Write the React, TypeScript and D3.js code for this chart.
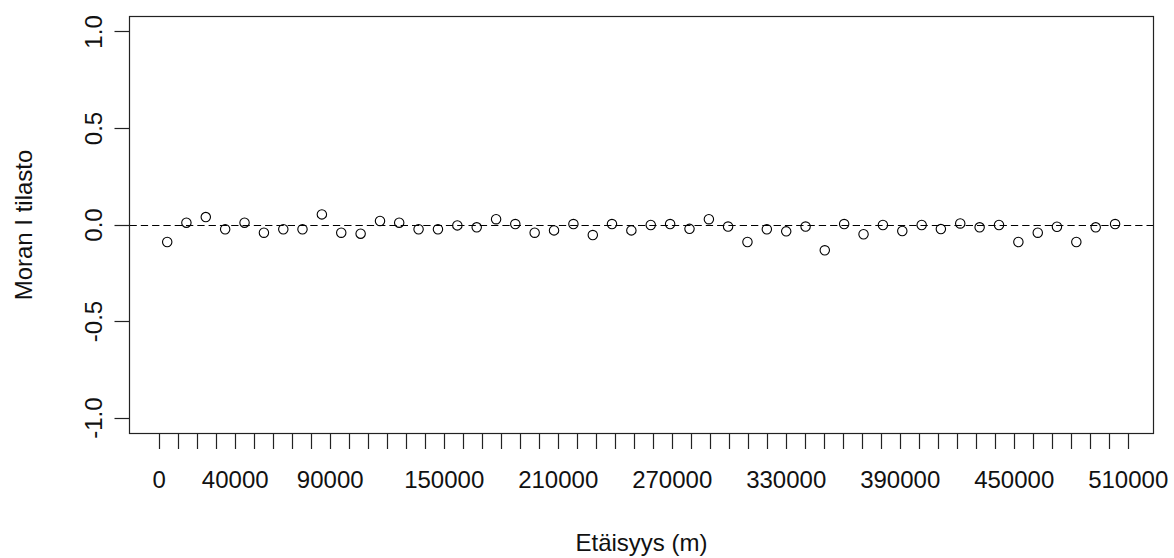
import React from "react";
import * as d3 from "d3";

// Distance-class midpoints (m) and Moran's I statistic per class
const distances = [
  4200, 14300, 24500, 34700, 44900, 55100, 65300, 75400, 85600, 95800,
  106000, 116200, 126300, 136500, 146700, 156900, 167100, 177300, 187400, 197600,
  207800, 218000, 228200, 238300, 248500, 258700, 268900, 279100, 289300, 299400,
  309600, 319800, 330000, 340200, 350300, 360500, 370700, 380900, 391100, 401300,
  411400, 421600, 431800, 442000, 452200, 462400, 472500, 482700, 492900, 503100,
];
const moranI = [
  -0.088, 0.012, 0.041, -0.022, 0.012, -0.04, -0.022, -0.022, 0.055, -0.04,
  -0.045, 0.021, 0.012, -0.022, -0.022, -0.002, -0.012, 0.03, 0.005, -0.04,
  -0.028, 0.005, -0.052, 0.005, -0.028, 0.0, 0.005, -0.02, 0.03, -0.008,
  -0.088, -0.022, -0.033, -0.008, -0.131, 0.005, -0.048, 0.0, -0.031, 0.0,
  -0.021, 0.008, -0.012, 0.0, -0.088, -0.04, -0.009, -0.088, -0.012, 0.005,
];

const xTickStep = 10000;
const xTickMax = 510000;
const xTickLabels = ["0", "40000", "90000", "150000", "210000", "270000", "330000", "390000", "450000", "510000"];
const yTicks = [-1, -0.5, 0, 0.5, 1];
const yTickLabels = ["-1.0", "-0.5", "0.0", "0.5", "1.0"];
const yLimits = [-1, 1];
const xTitle = "Etäisyys (m)";
const yTitle = "Moran I tilasto";

const W = 1174;
const H = 558;
const box = { left: 129.5, right: 1153.5, top: 16.5, bottom: 433.5 };
const FONT = "'Liberation Sans', Arial, Helvetica, sans-serif";

export default function App() {
  const [xmin, xmax] = d3.extent(distances) as [number, number];
  const xr = xmax - xmin;
  const x = d3
    .scaleLinear()
    .domain([xmin - 0.04 * xr, xmax + 0.04 * xr])
    .range([box.left - 0.2, box.right - 0.5]);
  const yr = yLimits[1] - yLimits[0];
  const y = d3
    .scaleLinear()
    .domain([yLimits[0] - 0.04 * yr, yLimits[1] + 0.04 * yr])
    .range([box.bottom, box.top]);

  const xTicks = d3.range(0, xTickMax + 1, xTickStep);
  const y0 = Math.round(y(0) - 0.5) + 0.5;

  return (
    <svg
      width={W}
      height={H}
      style={{ position: "absolute", left: 0, top: 0, background: "#fff" }}
      fontFamily={FONT}
    >
      <rect x={0} y={0} width={W} height={H} fill="#fff" />
      {/* reference line */}
      <line
        x1={box.left}
        x2={box.right}
        y1={y0}
        y2={y0}
        stroke="#000"
        strokeWidth={1}
        strokeDasharray="7.3,4"
      />
      {/* points */}
      {distances.map((d, i) => (
        <circle
          key={i}
          cx={x(d)}
          cy={y(moranI[i])}
          r={4.7}
          fill="none"
          stroke="#000"
          strokeWidth={1.1}
        />
      ))}
      {/* box */}
      <rect
        x={box.left}
        y={box.top}
        width={box.right - box.left}
        height={box.bottom - box.top}
        fill="none"
        stroke="#222"
        strokeWidth={1.2}
      />
      {/* x axis */}
      {xTicks.map((t) => {
        const px = Math.round(x(t) - 0.5) + 0.5;
        return (
          <line key={t} x1={px} x2={px} y1={box.bottom} y2={box.bottom + 15.5} stroke="#222" strokeWidth={1.2} />
        );
      })}
      {xTickLabels.map((lab) => (
        <text key={lab} x={x(+lab)} y={488} textAnchor="middle" fontSize={24} fill="#111">
          {lab}
        </text>
      ))}
      {/* y axis */}
      {yTicks.map((t, i) => {
        const py = Math.round(y(t) - 0.5) + 0.5;
        return (
          <g key={t}>
            <line x1={box.left - 15} x2={box.left} y1={py} y2={py} stroke="#222" strokeWidth={1.2} />
            <text
              transform={`translate(102,${y(t)}) rotate(-90)`}
              textAnchor="middle"
              fontSize={24}
              fill="#111"
            >
              {yTickLabels[i]}
            </text>
          </g>
        );
      })}
      {/* titles */}
      <text x={(box.left + box.right) / 2} y={551} textAnchor="middle" fontSize={24} fill="#111">
        {xTitle}
      </text>
      <text
        transform={`translate(32,${(box.top + box.bottom) / 2}) rotate(-90)`}
        textAnchor="middle"
        fontSize={24}
        fill="#111"
      >
        {yTitle}
      </text>
    </svg>
  );
}
